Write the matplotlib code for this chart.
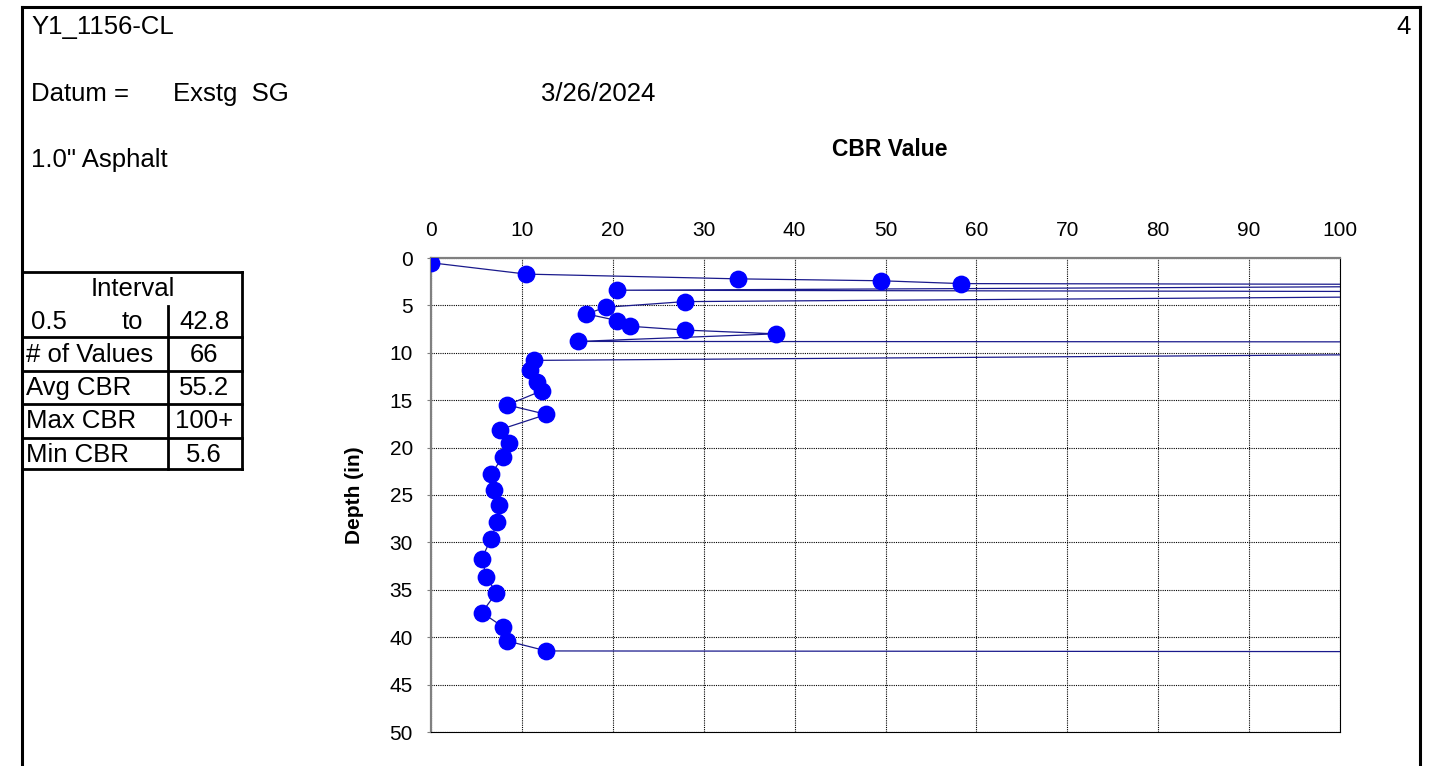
import matplotlib
matplotlib.use("Agg")
import matplotlib.pyplot as plt
from matplotlib.lines import Line2D

plt.rcParams["font.family"] = ["Liberation Sans", "DejaVu Sans"]

W, H = 1434, 766

# DCP readings: depth (in) and CBR; values above 100 run off the chart
depth = [0.5, 1.7, 2.2, 2.4, 2.7, 2.8, 2.9, 3.4, 3.55, 4.0,
         4.6, 5.2, 5.9, 6.6, 7.2, 7.6, 8.0, 8.8, 8.85, 10.15,
         10.8, 11.8, 13.1, 14.0, 15.5, 16.5, 18.1, 19.5, 21.0, 22.8,
         24.5, 26.1, 27.8, 29.6, 31.7, 33.7, 35.3, 37.4, 38.9, 40.4,
         41.45, 41.55, 42.8]
cbr = [0.0, 10.5, 33.8, 49.5, 58.3, 120, 130, 20.5, 115, 120,
       27.9, 19.2, 17.1, 20.5, 21.9, 27.9, 37.9, 16.2, 110, 110,
       11.3, 10.9, 11.7, 12.2, 8.4, 12.7, 7.6, 8.6, 7.9, 6.6,
       6.9, 7.5, 7.3, 6.6, 5.6, 6.1, 7.2, 5.6, 7.9, 8.4,
       12.7, 140, 150]

x_ticks = [0, 10, 20, 30, 40, 50, 60, 70, 80, 90, 100]
y_ticks = [0, 5, 10, 15, 20, 25, 30, 35, 40, 45, 50]

# summary table
table_labels = ["# of Values", "Avg CBR", "Max CBR", "Min CBR"]
table_values = ["66", "55.2", "100+", "5.6"]
interval = ("0.5", "to", "42.8")

site = "Y1_1156-CL"
page = "4"
datum = "Exstg  SG"
test_date = "3/26/2024"
surface = "1.0\" Asphalt"


def fx(x):
    return x / W


def fy(y):
    return 1 - y / H


def hline(fig, x0, x1, y, lw=2.0):
    fig.add_artist(Line2D([fx(x0), fx(x1)], [fy(y), fy(y)], color="black", lw=lw,
                          solid_capstyle="projecting"))


def vline(fig, x, y0, y1, lw=2.0):
    fig.add_artist(Line2D([fx(x), fx(x)], [fy(y0), fy(y1)], color="black", lw=lw,
                          solid_capstyle="projecting"))


fig = plt.figure(figsize=(W / 100, H / 100), dpi=100)

# page frame
hline(fig, 22, 1420, 7, lw=2.2)
vline(fig, 22, 7, 766, lw=2.2)
vline(fig, 1420, 7, 766, lw=2.2)

# header text
hdr = 18.5
fig.text(fx(31), fy(27), site, fontsize=hdr, va="center")
fig.text(fx(1411), fy(27), page, fontsize=hdr, va="center", ha="right")
fig.text(fx(31), fy(94), "Datum =", fontsize=hdr, va="center")
fig.text(fx(173), fy(94), datum, fontsize=hdr, va="center")
fig.text(fx(541), fy(94), test_date, fontsize=hdr, va="center")
fig.text(fx(31), fy(160), surface, fontsize=hdr, va="center")

# summary table
tb = 18.5
hline(fig, 22, 242, 272.5)
vline(fig, 242, 272.5, 469)
vline(fig, 168, 306, 469)
for yy in [337.5, 371, 404, 437.5, 469]:
    hline(fig, 22, 242, yy)
fig.text(fx(133), fy(289), "Interval", fontsize=tb, ha="center", va="center")
fig.text(fx(49), fy(322), interval[0], fontsize=tb, ha="center", va="center")
fig.text(fx(132), fy(322), interval[1], fontsize=tb, ha="center", va="center")
fig.text(fx(204), fy(322), interval[2], fontsize=tb, ha="center", va="center")
for i, (lab, val) in enumerate(zip(table_labels, table_values)):
    yc = 355 + i * 33.2
    fig.text(fx(26), fy(yc), lab, fontsize=tb, va="center")
    fig.text(fx(204), fy(yc), val, fontsize=tb, ha="center", va="center")

# chart
ax = fig.add_axes([fx(431), fy(732), fx(1340) - fx(431), fy(258) - fy(732)])
ax.plot(cbr, depth, color="#1a1a8c", lw=0.9, marker="o", ms=11.8,
        markerfacecolor="#0000FF", markeredgecolor="#0000FF", zorder=3)
ax.set_xlim(0, 100)
ax.set_ylim(50, 0)
ax.set_xticks(x_ticks)
ax.set_yticks(y_ticks)
ax.xaxis.tick_top()
ax.tick_params(axis="x", length=0, pad=13, labelsize=15)
ax.tick_params(axis="y", length=3, color="#808080", pad=10, labelsize=15)
ax.grid(True, color="black", linestyle=(0, (1, 1)), linewidth=0.8)
ax.set_axisbelow(True)
for side in ["top", "left"]:
    ax.spines[side].set_color("#808080")
    ax.spines[side].set_linewidth(1.6)
for side in ["right", "bottom"]:
    ax.spines[side].set_color("black")
    ax.spines[side].set_linestyle((0, (1, 1)))
    ax.spines[side].set_linewidth(0.8)

fig.text(fx(890), fy(150), "CBR Value", fontsize=16.5, fontweight="bold",
         ha="center", va="center")
fig.text(fx(355), fy(495), "Depth (in)", fontsize=15, fontweight="bold",
         ha="center", va="center", rotation=90)

fig.savefig("out.png", dpi=100)
